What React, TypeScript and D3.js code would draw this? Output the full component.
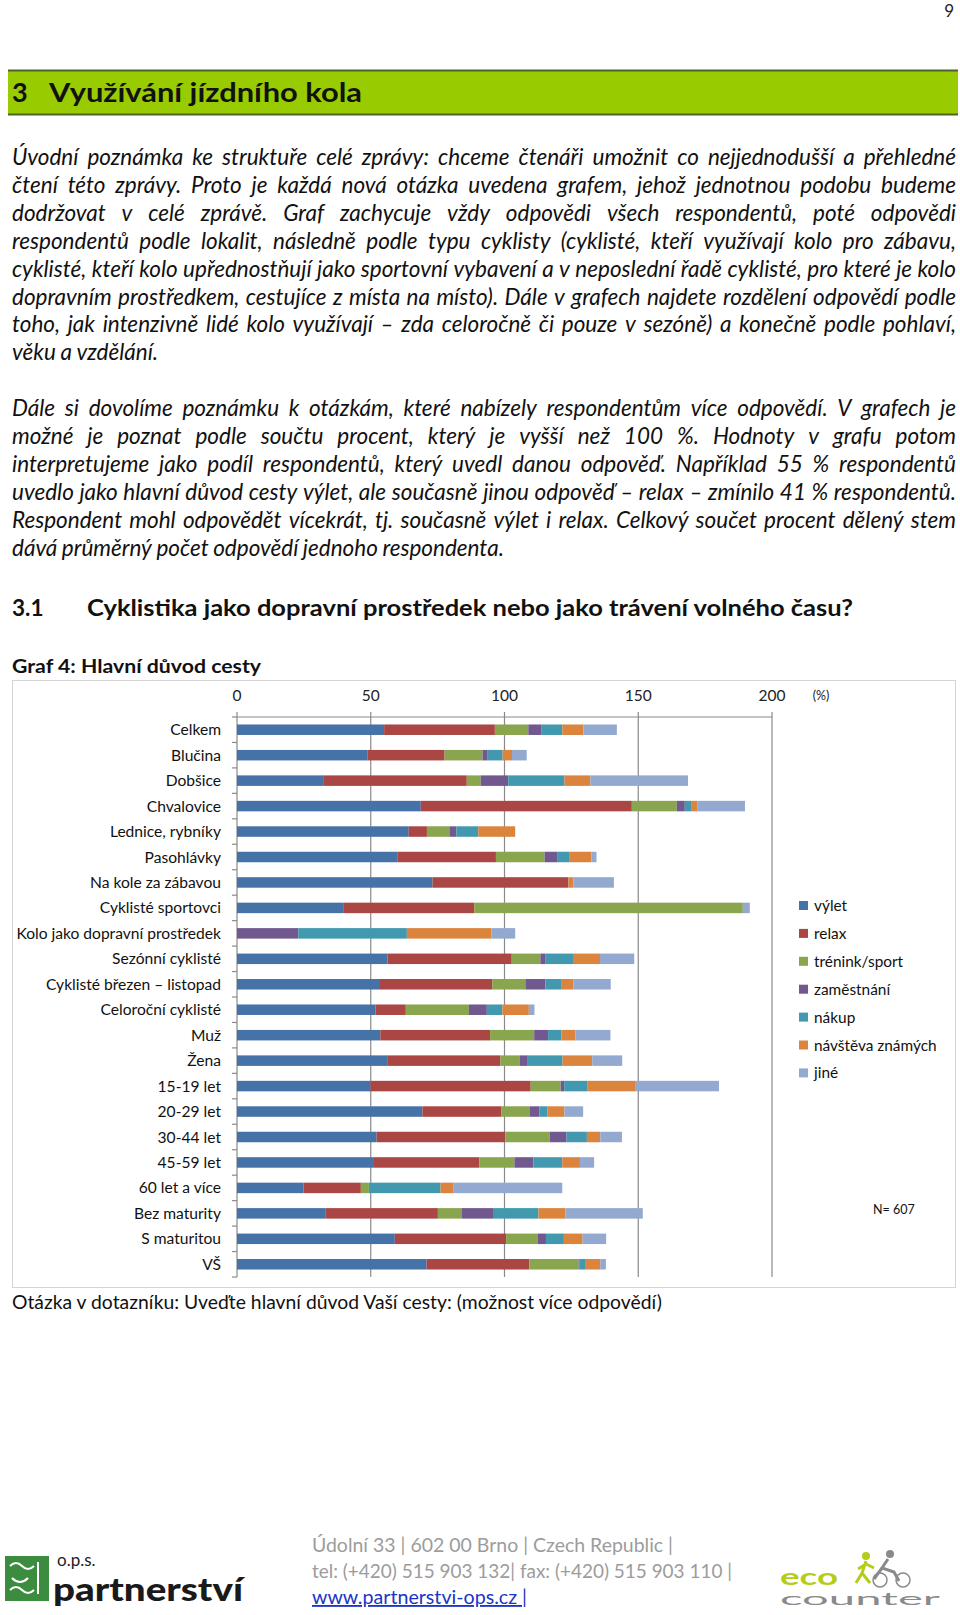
import React, { useLayoutEffect, useRef } from "react";
import * as d3 from "d3";

const categories = [
  "Celkem", "Blučina", "Dobšice", "Chvalovice", "Lednice, rybníky", "Pasohlávky",
  "Na kole za zábavou", "Cyklisté sportovci", "Kolo jako dopravní prostředek",
  "Sezónní cyklisté", "Cyklisté březen – listopad", "Celoroční cyklisté", "Muž", "Žena",
  "15-19 let", "20-29 let", "30-44 let", "45-59 let", "60 let a více", "Bez maturity",
  "S maturitou", "VŠ",
];
const seriesNames = ["výlet", "relax", "trénink/sport", "zaměstnání", "nákup", "návštěva známých", "jiné"];
const vylet = [55, 48.7, 32.2, 68.7, 64.2, 59.9, 73.1, 39.7, 0, 56.3, 53.1, 51.8, 53.6, 56.4, 49.9, 69.3, 52.2, 51.2, 24.9, 33.2, 59, 70.9];
const relax = [41.4, 28.9, 53.7, 78.9, 6.8, 36.9, 50.8, 49, 0, 46.4, 42.3, 11.3, 41, 42.1, 59.9, 29.6, 48.1, 39.4, 21.4, 41.9, 41.6, 38.4];
const trenink = [12.5, 14.2, 5.2, 16.8, 8.4, 18.2, 0, 100.4, 0, 10.7, 12.4, 23.6, 16.5, 7.1, 11.2, 10.6, 16.6, 13.1, 3, 9, 11.9, 18.4];
const zamestnani = [4.8, 1.7, 10.3, 3, 2.6, 4.9, 0, 0, 22.9, 1.8, 7.5, 6.7, 5.2, 3.1, 1.3, 3.5, 6.3, 7.1, 0, 11.6, 3, 0.4];
const nakup = [7.9, 5.8, 21, 2.6, 8.2, 4.5, 0, 0, 40.6, 10.4, 6.1, 5.8, 5, 13, 8.6, 3, 7.6, 10.8, 26.8, 17, 6.7, 2.3];
const navsteva = [7.9, 3.5, 9.7, 2.2, 13.8, 8.1, 1.8, 0, 31.6, 10.1, 4.4, 9.9, 5.2, 11.1, 17.9, 6.4, 5, 6.6, 4.9, 10.1, 7, 5.4];
const jine = [12.5, 5.5, 36.5, 17.7, 0, 1.9, 15.2, 2.6, 8.9, 12.8, 13.9, 2.1, 13.1, 11.2, 31.4, 7, 8.1, 5.3, 40.6, 28.9, 8.8, 2.1];
const xTicks = [0, 50, 100, 150, 200];
const colors = ["#4572A7", "#AA4643", "#89A54E", "#71588F", "#4198AF", "#DB843D", "#93A9CF"];

const para1 = [
  "Úvodní poznámka ke struktuře celé zprávy: chceme čtenáři umožnit co nejjednodušší a přehledné",
  "čtení této zprávy. Proto je každá nová otázka uvedena grafem, jehož jednotnou podobu budeme",
  "dodržovat v celé zprávě. Graf zachycuje vždy odpovědi všech respondentů, poté odpovědi",
  "respondentů podle lokalit, následně podle typu cyklisty (cyklisté, kteří využívají kolo pro zábavu,",
  "cyklisté, kteří kolo upřednostňují jako sportovní vybavení a v neposlední řadě cyklisté, pro které je kolo",
  "dopravním prostředkem, cestujíce z místa na místo). Dále v grafech najdete rozdělení odpovědí podle",
  "toho, jak intenzivně lidé kolo využívají – zda celoročně či pouze v sezóně) a konečně podle pohlaví,",
  "věku a vzdělání.",
];
const para2 = [
  "Dále si dovolíme poznámku k otázkám, které nabízely respondentům více odpovědí. V grafech je",
  "možné je poznat podle součtu procent, který je vyšší než 100 %. Hodnoty v grafu potom",
  "interpretujeme jako podíl respondentů, který uvedl danou odpověď. Například 55 % respondentů",
  "uvedlo jako hlavní důvod cesty výlet, ale současně jinou odpověď – relax – zmínilo 41 % respondentů.",
  "Respondent mohl odpovědět vícekrát, tj. současně výlet i relax. Celkový součet procent dělený stem",
  "dává průměrný počet odpovědí jednoho respondenta.",
];

const FONT = "Lato, 'Open Sans', sans-serif";
const TEXT_FONT_SIZE = 22.5;

function JustLine({ text, x, y, width, justify }: { text: string; x: number; y: number; width: number; justify: boolean }) {
  const ref = useRef<SVGGElement>(null);
  const words = text.split(" ");
  useLayoutEffect(() => {
    const g = ref.current;
    if (!g) return;
    const els = Array.from(g.querySelectorAll("text")) as SVGTextElement[];
    const ww = els.map((e) => e.getComputedTextLength());
    const sum = ww.reduce((a, b) => a + b, 0);
    const space = TEXT_FONT_SIZE * 0.2;
    let gap = space;
    let scale = 1;
    if (justify && els.length > 1) {
      gap = (width - sum) / (els.length - 1);
      if (gap < space * 0.7) {
        gap = space * 0.7;
        scale = (width - gap * (els.length - 1)) / sum;
      }
    }
    let cx = x;
    els.forEach((e, i) => {
      e.setAttribute("x", String(cx));
      if (scale !== 1) {
        e.setAttribute("textLength", String(ww[i] * scale));
        e.setAttribute("lengthAdjust", "spacingAndGlyphs");
      }
      cx += ww[i] * scale + gap;
    });
  }, [text, width, justify, x]);
  return (
    <g ref={ref}>
      {words.map((w, i) => (
        <text key={i} x={x} y={y} fontFamily={FONT} fontStyle="italic" fontSize={TEXT_FONT_SIZE} fill="#111">
          {w}
        </text>
      ))}
    </g>
  );
}

export default function App() {
  const x = d3.scaleLinear().domain([0, 200]).range([237, 772]);
  const y = d3.scaleBand<string>().domain(categories).range([717, 1277]);
  const rows = categories.map((c, i) => ({
    cat: c,
    s0: vylet[i], s1: relax[i], s2: trenink[i], s3: zamestnani[i], s4: nakup[i], s5: navsteva[i], s6: jine[i],
  }));
  const keys = ["s0", "s1", "s2", "s3", "s4", "s5", "s6"];
  const stacked = d3.stack<any>().keys(keys)(rows);
  const bh = 10.5;
  const gridColor = "#8a8a8a";
  const [y0, y1] = y.range();

  const legendY = (i: number) => 906 + i * 27.9;

  return (
    <svg width={960} height={1615} style={{ position: "absolute", left: 0, top: 0, background: "#fff" }}>
      <rect x={0} y={0} width={960} height={1615} fill="#fff" />
      {/* page number */}
      <text x={954} y={17} textAnchor="end" fontFamily={FONT} fontSize={17} fill="#222">9</text>

      {/* header bar */}
      <rect x={8} y={70} width={950} height={45} fill="#99CC00" />
      <line x1={8} x2={958} y1={70.5} y2={70.5} stroke="#4F6228" strokeWidth={2} />
      <line x1={8} x2={958} y1={114.5} y2={114.5} stroke="#4F6228" strokeWidth={2} />
      <text x={12} y={102} fontFamily={FONT} fontWeight={700} fontSize={27} fill="#111">3</text>
      <text x={49} y={102} fontFamily={FONT} fontWeight={700} fontSize={27} fill="#111" textLength={313} lengthAdjust="spacingAndGlyphs">Využívání jízdního kola</text>

      {/* paragraphs */}
      {para1.map((t, i) => (
        <JustLine key={"p1" + i} text={t} x={12} y={165 + i * 27.9} width={944} justify={i < para1.length - 1} />
      ))}
      {para2.map((t, i) => (
        <JustLine key={"p2" + i} text={t} x={12} y={416 + i * 27.9} width={944} justify={i < para2.length - 1} />
      ))}

      {/* section heading */}
      <text x={12} y={616} fontFamily={FONT} fontWeight={700} fontSize={22.5} fill="#111">3.1</text>
      <text x={87} y={616} fontFamily={FONT} fontWeight={700} fontSize={22.5} fill="#111" textLength={766} lengthAdjust="spacingAndGlyphs">Cyklistika jako dopravní prostředek nebo jako trávení volného času?</text>

      <text x={12} y={673} fontFamily={FONT} fontWeight={700} fontSize={19} fill="#111" textLength={249} lengthAdjust="spacingAndGlyphs">Graf 4: Hlavní důvod cesty</text>

      {/* chart frame */}
      <rect x={12.5} y={680.5} width={943} height={607} fill="none" stroke="#d4d4d4" strokeWidth={1} />

      {/* gridlines */}
      {xTicks.map((t) => (
        <g key={"g" + t}>
          <line x1={x(t)} x2={x(t)} y1={y0 - 5} y2={y1} stroke={gridColor} strokeWidth={1.2} />
          <text x={x(t)} y={701} textAnchor="middle" fontFamily={FONT} fontSize={15.5} fill="#222">{t}</text>
        </g>
      ))}
      <text x={821} y={700} textAnchor="middle" fontFamily={FONT} fontSize={12.5} fill="#222">(%)</text>
      <line x1={x(0)} x2={x(200)} y1={y0} y2={y0} stroke={gridColor} strokeWidth={1.2} />
      {/* left axis ticks */}
      {d3.range(categories.length + 1).map((i) => (
        <line key={"lt" + i} x1={x(0) - 5} x2={x(0)} y1={y0 + i * y.step()} y2={y0 + i * y.step()} stroke={gridColor} strokeWidth={1.2} />
      ))}

      {/* bars */}
      {stacked.map((s, si) => (
        <g key={"s" + si} fill={colors[si]}>
          {s.map((d: any, di: number) => {
            const w = x(d[1]) - x(d[0]);
            if (w <= 0) return null;
            return (
              <rect key={di} x={x(d[0])} y={(y(d.data.cat) as number) + y.bandwidth() / 2 - bh / 2} width={w} height={bh} />
            );
          })}
        </g>
      ))}

      {/* category labels */}
      {categories.map((c) => (
        <text key={"c" + c} x={221} y={(y(c) as number) + y.bandwidth() / 2 + 5.5} textAnchor="end" fontFamily={FONT} fontSize={15.6} fill="#111">{c}</text>
      ))}

      {/* legend */}
      {seriesNames.map((n, i) => (
        <g key={"l" + i}>
          <rect x={799} y={legendY(i) - 5} width={9} height={9} fill={colors[i]} />
          <text x={814} y={legendY(i) + 5} fontFamily={FONT} fontSize={15.4} fill="#111">{n}</text>
        </g>
      ))}
      <text x={873} y={1214} fontFamily={FONT} fontSize={12.5} fill="#111">N= 607</text>

      {/* caption */}
      <text x={12} y={1309} fontFamily={FONT} fontSize={18.5} fill="#111" textLength={650} lengthAdjust="spacingAndGlyphs">Otázka v dotazníku: Uveďte hlavní důvod Vaší cesty: (možnost více odpovědí)</text>

      {/* footer: partnerství logo */}
      <rect x={5} y={1556} width={44} height={45} fill="#3C8C40" />
      <path d="M10 1566 q6 -6 12 0 t12 0 M12 1578 q8 8 16 0 M10 1590 q6 -6 12 0 t12 0 M38 1562 l0 32" stroke="#fff" strokeWidth={2} fill="none" />
      <text x={57} y={1566} fontFamily={FONT} fontSize={17} fill="#222">o.p.s.</text>
      <text x={53} y={1601} fontFamily={FONT} fontWeight={900} fontSize={32} fill="#1a1a1a" textLength={190} lengthAdjust="spacingAndGlyphs">partnerství</text>

      {/* footer address */}
      <text x={312} y={1552} fontFamily={FONT} fontSize={18.5} fill="#9c9c9c" textLength={361} lengthAdjust="spacingAndGlyphs">Údolní 33 | 602 00 Brno | Czech Republic |</text>
      <text x={312} y={1578} fontFamily={FONT} fontSize={18.5} fill="#9c9c9c" textLength={420} lengthAdjust="spacingAndGlyphs">tel: (+420) 515 903 132| fax: (+420) 515 903 110 |</text>
      <text x={312} y={1604} fontFamily={FONT} fontSize={18.5} fill="#1a35c8" textLength={215} lengthAdjust="spacingAndGlyphs" textDecoration="underline">www.partnerstvi-ops.cz |</text>

      {/* footer: eco counter logo */}
      <text x={780} y={1585} fontFamily={FONT} fontWeight={700} fontSize={22} fill="#B5CC1A" textLength={58} lengthAdjust="spacingAndGlyphs">eco</text>
      <text x={780} y={1605} fontFamily={FONT} fontSize={18} fill="#8a8a8a" textLength={160} lengthAdjust="spacingAndGlyphs">counter</text>
      <circle cx={866} cy={1556} r={4} fill="#B5CC1A" />
      <path d="M866 1561 l-4 12 l-6 10 M862 1573 l8 10 M866 1564 l-8 5 M866 1564 l8 4" stroke="#B5CC1A" strokeWidth={3} fill="none" />
      <circle cx={890} cy={1554} r={4} fill="#8a8a8a" />
      <path d="M888 1559 l-6 9 l12 4 l5 9 M882 1568 l-8 11" stroke="#8a8a8a" strokeWidth={3} fill="none" />
      <circle cx={880} cy={1580} r={7} fill="none" stroke="#8a8a8a" strokeWidth={1.5} />
      <circle cx={903} cy={1580} r={7} fill="none" stroke="#8a8a8a" strokeWidth={1.5} />
    </svg>
  );
}
